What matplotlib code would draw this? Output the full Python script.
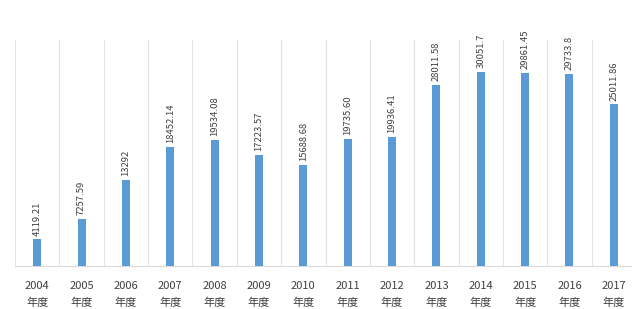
import numpy as np
import matplotlib
matplotlib.use("Agg")
import matplotlib.pyplot as plt

plt.rcParams['font.family'] = ['Noto Sans CJK SC', 'DejaVu Sans']

years = ["2004", "2005", "2006", "2007", "2008", "2009", "2010",
         "2011", "2012", "2013", "2014", "2015", "2016", "2017"]
suffix = "年度"
values = [4119.21, 7257.59, 13292, 18452.14, 19534.08, 17223.57, 15688.68,
          19735.60, 19936.41, 28011.58, 30051.7, 29861.45, 29733.8, 25011.86]
value_labels = ["4119.21", "7257.59", "13292", "18452.14", "19534.08", "17223.57",
                "15688.68", "19735.60", "19936.41", "28011.58", "30051.7",
                "29861.45", "29733.8", "25011.86"]

fig = plt.figure(figsize=(6.32, 3.09), dpi=100)
ax = fig.add_axes([15 / 632, 1 - 266 / 309, 621 / 632, 226 / 309])

x = np.arange(len(years))
ax.bar(x, values, width=0.18, color="#5b9bd5", zorder=3)

# value labels above bars
for xi, v, lab in zip(x, values, value_labels):
    ax.text(xi, v + 600, lab, rotation=90, ha="center", va="bottom",
            fontsize=6.8, color="#404040", clip_on=False)

ax.set_xlim(-0.5, len(years) - 0.5)
ax.set_ylim(0, 35000)

# vertical separators between categories
for b in np.arange(-0.5, len(years), 1.0):
    ax.axvline(b, color="#e4e4e4", lw=0.8, zorder=1)

ax.set_xticks(x)
ax.set_xticklabels([y + "\n" + suffix for y in years], fontsize=8,
                   color="#404040", linespacing=1.7)
ax.tick_params(axis="x", length=0, pad=11)
ax.set_yticks([])
for s in ["top", "left", "right"]:
    ax.spines[s].set_visible(False)
ax.spines["bottom"].set_color("#d9d9d9")

fig.savefig("out.png", dpi=100)
